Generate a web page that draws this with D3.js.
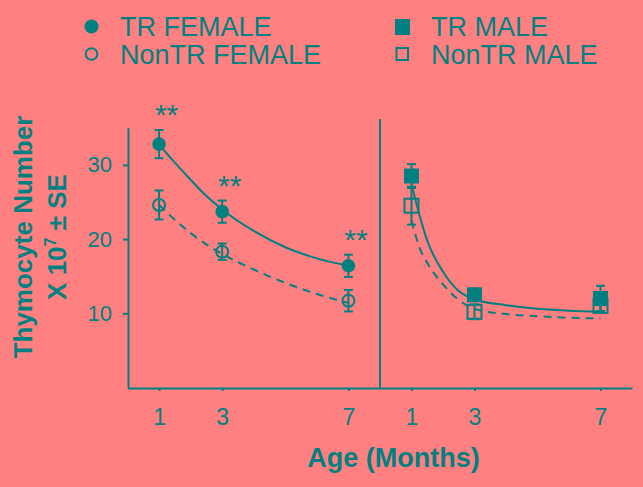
<!DOCTYPE html>
<html><head><meta charset="utf-8">
<script src="https://cdn.jsdelivr.net/npm/d3@7"></script>
<style>
body{margin:0;background:#ff8080;}
svg{display:block;}
text{font-family:"Liberation Sans",Arial,sans-serif;fill:#008080;}
</style>
</head><body><svg id="c" width="643" height="487"></svg>
<script>
// ---- data ----
const months = [1, 3, 7];
const xTickValues = [1, 3, 7];
const yTickValues = [10, 20, 30];
const trFemale = [32.8, 23.7, 16.4];
const trFemaleSE = [1.9, 1.5, 1.5];
const nonTrFemale = [24.6, 18.3, 11.7];
const nonTrFemaleSE = [1.95, 1.1, 1.45];
const trMale = [28.5, 12.5, 12.0];
const trMaleSE = [1.6, 0.8, 1.7];
const nonTrMale = [24.5, 10.2, 11.0];
const nonTrMaleSE = [2.55, 1.0, 0.8];
const significant = ["**", "**", "**"]; // TR vs NonTR female
// fitted curves
const fitMonths = [1, 1.25, 1.5, 2, 2.5, 3, 4, 5, 6, 7];
const trFemaleFit = [32.8, 31.5, 30.3, 28.0, 25.8, 24.0, 21.1, 18.9, 17.4, 16.4];
const nonTrFemaleFit = [24.6, 23.6, 22.6, 20.8, 19.3, 18.0, 15.9, 14.1, 12.6, 11.4];
const trMaleFit = [27.4, 23.3, 19.8, 15.6, 13.0, 11.9, 11.1, 10.6, 10.35, 10.2];
const nonTrMaleFit = [22.5, 18.9, 16.8, 13.9, 11.8, 10.6, 9.9, 9.6, 9.4, 9.3];
const legendItems = ["TR FEMALE", "NonTR FEMALE", "TR MALE", "NonTR MALE"];

const C = "#008080";
const svg = d3.select("#c");

const y = d3.scaleLinear().domain([0, 35]).range([387.5, 127.8]);
const xL = d3.scaleLinear().domain([0, 8]).range([127.5, 380]);
const xR = d3.scaleLinear().domain([0, 8]).range([380, 632]);

// axes
function styleAxis(g){
  g.selectAll("path.domain").attr("stroke", C).attr("stroke-width", 2);
  g.selectAll(".tick line").attr("stroke", C).attr("stroke-width", 2);
  g.selectAll(".tick text").attr("fill", C).attr("font-family", '"Liberation Sans",Arial,sans-serif');
}
[xL, xR].forEach(xs => {
  const g = svg.append("g").attr("transform", "translate(0,388)")
    .call(d3.axisBottom(xs).tickValues(xTickValues).tickFormat(d3.format("d"))
      .tickSize(3).tickSizeOuter(0).tickPadding(18));
  g.attr("font-size", 23);
  styleAxis(g);
});
const gy = svg.append("g").attr("transform", "translate(128,0)")
  .call(d3.axisLeft(y).tickValues(yTickValues).tickSize(5).tickSizeOuter(0).tickPadding(11));
gy.attr("font-size", 22);
styleAxis(gy);

// divider
svg.append("line").attr("x1", 380).attr("x2", 380).attr("y1", 119).attr("y2", 388)
  .attr("stroke", C).attr("stroke-width", 2);

// curves
const line = (xs) => d3.line().x((d, i) => xs(fitMonths[i])).y(d => y(d)).curve(d3.curveMonotoneX);
function curve(xs, vals, dashed){
  svg.append("path").attr("d", line(xs)(vals)).attr("fill", "none")
    .attr("stroke", C).attr("stroke-width", 2)
    .attr("stroke-dasharray", dashed ? "8,6" : null);
}
curve(xL, trFemaleFit, false);
curve(xL, nonTrFemaleFit, true);
curve(xR, trMaleFit, false);
curve(xR, nonTrMaleFit, true);

// error bars
function errBars(xs, vals, se){
  const g = svg.append("g").attr("stroke", C).attr("stroke-width", 2);
  vals.forEach((v, i) => {
    const x = xs(months[i]);
    g.append("line").attr("x1", x).attr("x2", x).attr("y1", y(v - se[i])).attr("y2", y(v + se[i]));
    [v - se[i], v + se[i]].forEach(e => g.append("line")
      .attr("x1", x - 4.5).attr("x2", x + 4.5).attr("y1", y(e)).attr("y2", y(e)));
  });
}
errBars(xL, nonTrFemale, nonTrFemaleSE);
errBars(xL, trFemale, trFemaleSE);
errBars(xR, nonTrMale, nonTrMaleSE);
errBars(xR, trMale, trMaleSE);

// markers
function circles(xs, vals, filled){
  svg.append("g").selectAll("circle").data(vals).join("circle")
    .attr("cx", (d, i) => xs(months[i])).attr("cy", d => y(d))
    .attr("r", filled ? 6.8 : 6)
    .attr("fill", filled ? C : "none").attr("stroke", filled ? "none" : C).attr("stroke-width", 2);
}
function squares(xs, vals, filled){
  const s = filled ? 15 : 14;
  svg.append("g").selectAll("rect").data(vals).join("rect")
    .attr("x", (d, i) => xs(months[i]) - s / 2).attr("y", d => y(d) - s / 2)
    .attr("width", s).attr("height", s)
    .attr("fill", filled ? C : "none").attr("stroke", filled ? "none" : C).attr("stroke-width", 2);
}
circles(xL, nonTrFemale, false);
circles(xL, trFemale, true);
squares(xR, trMale, true);
squares(xR, nonTrMale, false);

// significance marks
svg.append("g").selectAll("text").data(significant).join("text")
  .attr("x", (d, i) => xL(months[i]) + 7.5)
  .attr("y", (d, i) => y(trFemale[i] + trFemaleSE[i]) - 5)
  .attr("text-anchor", "middle").attr("font-size", 30).text(d => d);

// legend
const lg = svg.append("g");
lg.append("circle").attr("cx", 91.5).attr("cy", 26.5).attr("r", 7).attr("fill", C);
lg.append("circle").attr("cx", 91.5).attr("cy", 54).attr("r", 5.8).attr("fill", "none").attr("stroke", C).attr("stroke-width", 2);
lg.append("rect").attr("x", 395).attr("y", 19).attr("width", 15).attr("height", 16).attr("fill", C);
lg.append("rect").attr("x", 396.5).attr("y", 48).attr("width", 11.5).attr("height", 12).attr("fill", "none").attr("stroke", C).attr("stroke-width", 2);
[[120, 36], [120, 64], [431, 36], [431, 64]].forEach((p, i) => {
  lg.append("text").attr("x", p[0]).attr("y", p[1]).attr("font-size", 27).text(legendItems[i]);
});

// axis titles
svg.append("text").attr("x", 393.5).attr("y", 467).attr("text-anchor", "middle")
  .attr("font-size", 27).attr("font-weight", "bold").text("Age (Months)");
const yt = svg.append("text").attr("transform", "translate(32,237) rotate(-90)")
  .attr("text-anchor", "middle").attr("font-size", 26).attr("font-weight", "bold");
yt.append("tspan").attr("x", 0).attr("y", 0).text("Thymocyte Number");
const t2 = yt.append("tspan").attr("x", 0).attr("y", 34);
t2.append("tspan").text("X 10");
t2.append("tspan").attr("font-size", 16).attr("dy", -10).text("7");
t2.append("tspan").attr("dy", 10).text(" ± SE");
</script>
</body></html>
